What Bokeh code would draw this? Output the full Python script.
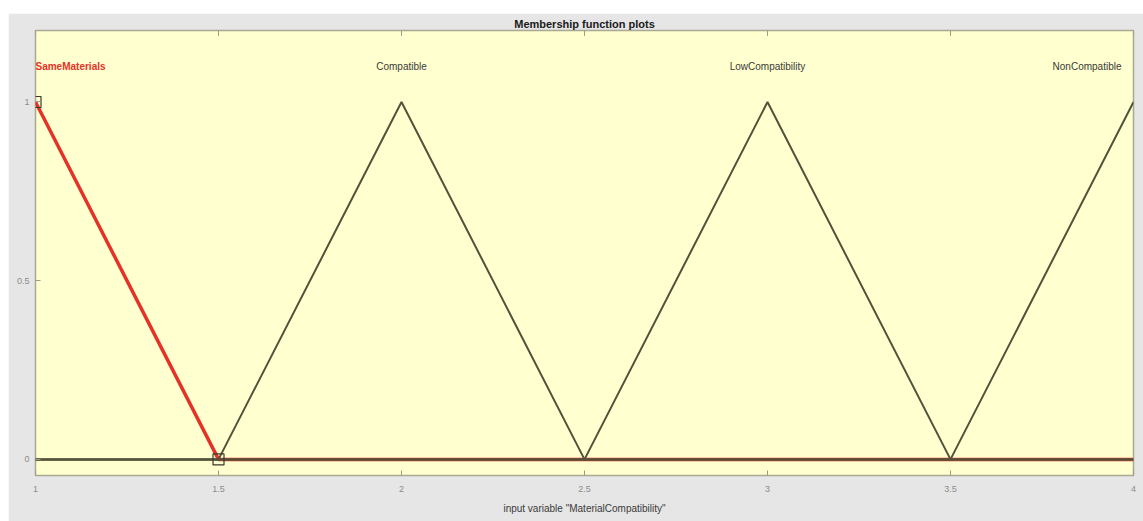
from bokeh.plotting import figure
from bokeh.models import Range1d, FixedTicker, Label, Spacer
from bokeh.layouts import column, row
from bokeh.embed import file_html
from bokeh.resources import INLINE

# Membership functions of the input variable (triangular: a, b, c)
mf_names = ["SameMaterials", "Compatible", "LowCompatibility", "NonCompatible"]
mf_a = [0.5, 1.5, 2.5, 3.5]
mf_b = [1.0, 2.0, 3.0, 4.0]
mf_c = [1.5, 2.5, 3.5, 4.5]
selected = "SameMaterials"

x_min, x_max = 1.0, 4.0
y_min, y_max = -0.045, 1.2
x_ticks = [1, 1.5, 2, 2.5, 3, 3.5, 4]
x_tick_labels = ["1", "1.5", "2", "2.5", "3", "3.5", "4"]
y_ticks = [0, 0.5, 1]
y_tick_labels = ["0", "0.5", "1"]
var_name = "MaterialCompatibility"

FONT = "Liberation Sans"
LINE = "#52523a"
RED = "#e53228"
TICK = "#9a9a88"


def trimf(x, a, b, c):
    left = (x - a) / (b - a) if b != a else 1.0
    right = (c - x) / (c - b) if c != b else 1.0
    return max(min(left, right), 0.0)


def mf_polyline(a, b, c):
    xs = sorted({x_min, x_max} | {v for v in (a, b, c) if x_min <= v <= x_max})
    return xs, [trimf(x, a, b, c) for x in xs]


p = figure(width=1135, height=508, output_backend="svg", toolbar_location=None,
           x_range=Range1d(x_min, x_max), y_range=Range1d(y_min, y_max),
           min_border_left=27, min_border_right=10, min_border_top=17,
           min_border_bottom=46)
p.background_fill_color = "#ffffcf"
p.border_fill_color = "#e6e6e6"
p.outline_line_color = "#a9a995"
p.outline_line_width = 1.5
p.grid.visible = False

p.title.text = "Membership function plots"
p.title.align = "center"
p.title.vertical_align = "middle"
p.title.text_font = FONT
p.title.text_font_size = "11px"
p.title.text_font_style = "bold"
p.title.text_color = "#1a1a1a"
p.title.standoff = 0
p.title.offset = 0

xa = p.xaxis[0]
xa.ticker = FixedTicker(ticks=x_ticks)
xa.major_label_overrides = {t: s for t, s in zip(x_ticks, x_tick_labels)}
xa.axis_label = f'input variable "{var_name}"'
ya = p.yaxis[0]
ya.ticker = FixedTicker(ticks=y_ticks)
ya.major_label_overrides = {t: s for t, s in zip(y_ticks, y_tick_labels)}
for ax in (xa, ya):
    ax.axis_line_color = None
    ax.major_tick_in = 5
    ax.major_tick_out = 0
    ax.major_tick_line_color = TICK
    ax.minor_tick_line_color = None
    ax.major_label_text_font = FONT
    ax.major_label_text_font_size = "9px"
    ax.major_label_text_color = "#8c8c8c"
xa.major_label_standoff = 10
ya.major_label_standoff = 6
xa.axis_label_text_font = FONT
xa.axis_label_text_font_size = "10px"
xa.axis_label_text_font_style = "normal"
xa.axis_label_text_color = "#3a3a3a"
xa.axis_label_standoff = 8

# inside tick marks along the top edge of the box
tick_len = (y_max - y_min) * 0.012
p.segment(x0=x_ticks, y0=[y_max] * len(x_ticks), x1=x_ticks,
          y1=[y_max - tick_len] * len(x_ticks), line_color=TICK, line_width=1)

# selected function in red, the others drawn over it in dark olive
i_sel = mf_names.index(selected)
xs, ys = mf_polyline(mf_a[i_sel], mf_b[i_sel], mf_c[i_sel])
p.line(xs, ys, line_color=RED, line_width=3.5)
for i, name in enumerate(mf_names):
    if name == selected:
        continue
    xs, ys = mf_polyline(mf_a[i], mf_b[i], mf_c[i])
    p.line(xs, ys, line_color=LINE, line_width=2)

# vertex handles of the selected function
vx = [v for v in (mf_a[i_sel], mf_b[i_sel], mf_c[i_sel]) if x_min <= v <= x_max]
vy = [trimf(v, mf_a[i_sel], mf_b[i_sel], mf_c[i_sel]) for v in vx]
p.scatter(vx, vy, marker="square", size=11, fill_color=None,
          line_color="#3a3a2a", line_width=1.2)

# function names above each peak
for i, name in enumerate(mf_names):
    peak = mf_b[i]
    if peak <= x_min:
        align = "left"
    elif peak >= x_max:
        align = "right"
    else:
        align = "center"
    lab = Label(x=min(max(peak, x_min), x_max), y=1.1, text=name,
                text_align=align, text_baseline="middle",
                text_font=FONT, text_font_size="10px",
                x_offset=-12 if align == "right" else 0,
                text_color=RED if name == selected else "#3a3a3a",
                text_font_style="bold" if name == selected else "normal")
    p.add_layout(lab)

layout = column(Spacer(height=13), row(Spacer(width=8), p))
open("out.html", "w").write(file_html(layout, INLINE))
